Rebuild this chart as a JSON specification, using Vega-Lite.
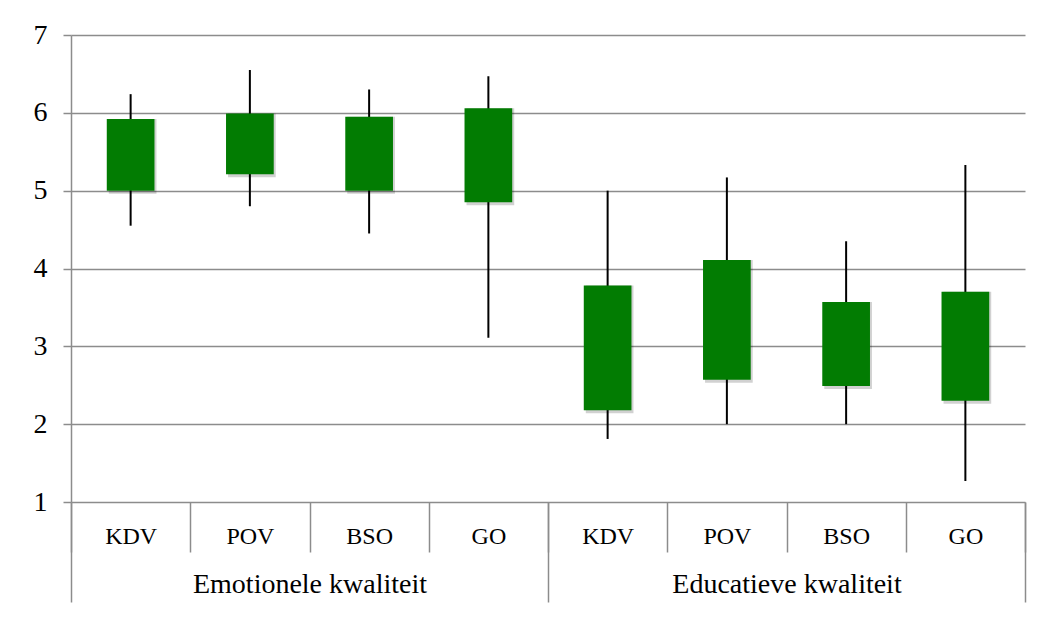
{
  "$schema": "https://vega.github.io/schema/vega-lite/v6.json",
  "width": 954,
  "height": 467,
  "autosize": {"type": "none"},
  "padding": {"left": 71, "top": 35, "right": 18, "bottom": 120},
  "background": "white",
  "data": {
    "values": [
      {"group": "Emotionele kwaliteit", "type": "KDV", "key": "Emotionele kwaliteit|KDV", "low": 4.55, "high": 6.24, "box_low": 5.0, "box_high": 5.92},
      {"group": "Emotionele kwaliteit", "type": "POV", "key": "Emotionele kwaliteit|POV", "low": 4.8, "high": 6.55, "box_low": 5.21, "box_high": 5.99},
      {"group": "Emotionele kwaliteit", "type": "BSO", "key": "Emotionele kwaliteit|BSO", "low": 4.45, "high": 6.3, "box_low": 5.0, "box_high": 5.95},
      {"group": "Emotionele kwaliteit", "type": "GO", "key": "Emotionele kwaliteit|GO", "low": 3.11, "high": 6.47, "box_low": 4.85, "box_high": 6.06},
      {"group": "Educatieve kwaliteit", "type": "KDV", "key": "Educatieve kwaliteit|KDV", "low": 1.81, "high": 5.0, "box_low": 2.18, "box_high": 3.78},
      {"group": "Educatieve kwaliteit", "type": "POV", "key": "Educatieve kwaliteit|POV", "low": 2.0, "high": 5.17, "box_low": 2.57, "box_high": 4.11},
      {"group": "Educatieve kwaliteit", "type": "BSO", "key": "Educatieve kwaliteit|BSO", "low": 2.0, "high": 4.35, "box_low": 2.49, "box_high": 3.57},
      {"group": "Educatieve kwaliteit", "type": "GO", "key": "Educatieve kwaliteit|GO", "low": 1.27, "high": 5.33, "box_low": 2.3, "box_high": 3.7}
    ]
  },
  "config": {
    "font": "Liberation Serif",
    "view": {"stroke": null},
    "axis": {"labelColor": "black", "labelFont": "Liberation Serif", "title": null, "labelLimit": 500}
  },
  "layer": [
    {
      "layer": [
        {
          "mark": {"type": "rule", "color": "black", "strokeWidth": 2},
          "encoding": {
            "x": {
              "field": "key", "type": "nominal", "sort": null,
              "scale": {"type": "band", "paddingInner": 0, "paddingOuter": 0},
              "axis": {
                "orient": "bottom", "domain": false, "grid": false,
                "tickBand": "extent", "tickSize": 50, "tickColor": "#8C8C8C", "tickWidth": 1.5,
                "labelExpr": "split(datum.label, '|')[1]",
                "labelAngle": 0, "labelBaseline": "middle", "labelPadding": -15.5,
                "labelFontSize": 24, "labelLimit": 500, "title": null
              }
            },
            "y": {
              "field": "low", "type": "quantitative",
              "scale": {"domain": [1, 7], "nice": false, "zero": false},
              "axis": {
                "values": [1, 2, 3, 4, 5, 6, 7], "format": "d", "grid": true, "gridColor": "#8C8C8C", "gridWidth": 1.5,
                "domainColor": "#8C8C8C", "domainWidth": 1.5,
                "tickColor": "#8C8C8C", "tickWidth": 1.5, "tickSize": 8,
                "labelFontSize": 28, "labelPadding": 16, "title": null
              }
            },
            "y2": {"field": "high"}
          }
        },
        {
          "mark": {"type": "bar", "color": "#000000", "opacity": 0.18, "width": {"band": 0.4}, "xOffset": 2, "yOffset": 3},
          "encoding": {
            "x": {"field": "key", "type": "nominal", "sort": null},
            "y": {"field": "box_low", "type": "quantitative"},
            "y2": {"field": "box_high"}
          }
        },
        {
          "mark": {"type": "bar", "color": "#027C02", "width": {"band": 0.4}},
          "encoding": {
            "x": {"field": "key", "type": "nominal", "sort": null},
            "y": {"field": "box_low", "type": "quantitative"},
            "y2": {"field": "box_high"}
          }
        }
      ]
    },
    {
      "mark": {"type": "point", "opacity": 0},
      "encoding": {
        "x": {
          "field": "group", "type": "nominal", "sort": null,
          "scale": {"type": "band", "paddingInner": 0, "paddingOuter": 0},
          "axis": {
            "orient": "bottom", "domain": false, "grid": false,
            "tickBand": "extent", "tickSize": 100, "tickColor": "#8C8C8C", "tickWidth": 1.5,
            "labelAngle": 0, "labelBaseline": "middle", "labelPadding": -17.5,
            "labelFontSize": 28, "labelLimit": 500, "title": null
          }
        },
        "y": {"datum": 1, "type": "quantitative"}
      }
    }
  ],
  "resolve": {"scale": {"x": "independent"}, "axis": {"x": "independent"}}
}
